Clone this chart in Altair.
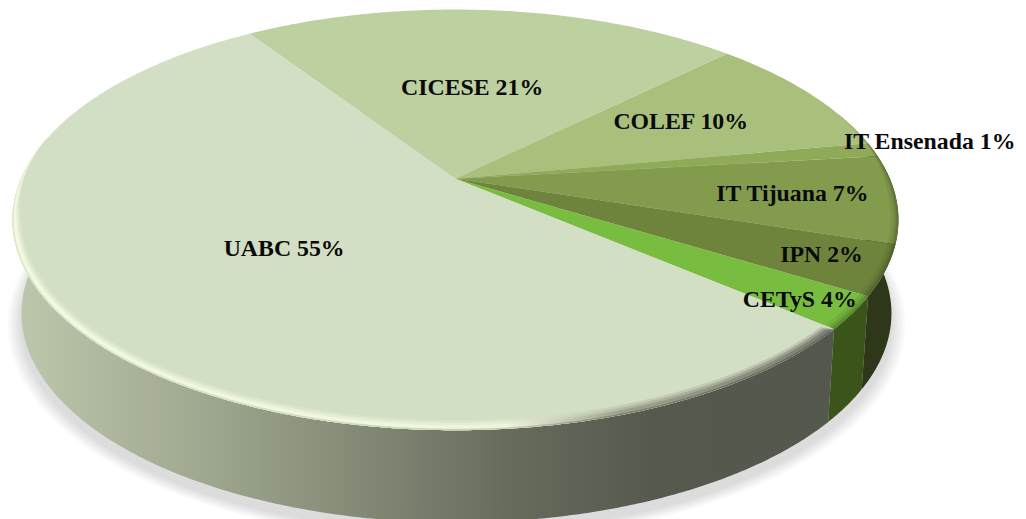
import numpy as np
import pandas as pd
import altair as alt

# Slice shares, clockwise from the top-left boundary
names = ["CICESE", "COLEF", "IT Ensenada", "IT Tijuana", "IPN", "CETyS", "UABC"]
shares = [21.9, 9.5, 1.1, 6.75, 3.8, 2.5, 54.45]
labels = ["CICESE 21%", "COLEF 10%", "IT Ensenada 1%", "IT Tijuana 7%", "IPN 2%", "CETyS 4%", "UABC 55%"]
colors = ["#bdd0a0", "#a8c07c", "#90ab58", "#839b4c", "#6e843c", "#79bd40", "#d3dfc5"]
label_radius = [0.49, 0.625, 1.148, 0.768, 0.86, 0.89, 0.493]
label_turn = [-1.0, -1.0, -1.0, 0.0, -0.5, 1.2, 0.0]

START = -33.5
K = 0.196
TOP = dict(cx=455.0, cy=178.0, A=433.4, B=201.0)
LOW = dict(cx=456.0, cy=271.0, A=425.6, B=200.0)


def project(theta_deg, r=1.0, p=TOP, ry=None):
    t = np.radians(np.asarray(theta_deg, dtype=float))
    ry = r if ry is None else ry
    X, Y = r * np.sin(t), ry * np.cos(t)
    d = 1 + K * Y
    return p["cx"] + p["A"] * X / d, p["cy"] - p["B"] * Y / d


edges = START + np.concatenate([[0], np.cumsum(shares)]) * 3.6

X_ENC = alt.X("x:Q", scale=alt.Scale(domain=[8.52, 1016.3], nice=False, zero=False), axis=None)
Y_ENC = alt.Y("y:Q", scale=alt.Scale(domain=[514.2, 10.39], nice=False, zero=False), axis=None)


def angles(a, b):
    return np.linspace(a, b, max(int(abs(b - a) * 2), 3))


def arc(a, b, p=TOP):
    return project(angles(a, b), 1.0, p)


def frame(xs, ys):
    return pd.DataFrame({"x": xs, "y": ys, "i": np.arange(len(xs))})


def poly(xs, ys, fill, **kw):
    return alt.Chart(frame(xs, ys)).mark_line(
        interpolate="linear-closed", fill=fill, strokeOpacity=0, **kw
    ).encode(x=X_ENC, y=Y_ENC, order="i:Q")


def grad(stops):
    return alt.Gradient(
        gradient="linear", x1=0, y1=0, x2=1, y2=0,
        stops=[alt.GradientStop(offset=o, color=c) for o, c in stops],
    )


def band(a, b, px_out, px_in, fill, taper_lo=None, taper_hi=None, **kw):
    """Rim strip between two insets given in pixels, tapering toward its ends."""
    th = angles(a, b)
    w = np.ones_like(th)
    if taper_hi is not None:
        w = w * np.clip((b - th) / taper_hi, 0, 1)
    if taper_lo is not None:
        w = w * np.clip((th - a) / taper_lo, 0, 1)
    ox, oy = project(th, 1 - w * px_out / 442, ry=1 - w * px_out / 250)
    ix, iy = project(th, 1 - w * px_in / 442, ry=1 - w * px_in / 250)
    return poly(np.r_[ox, ix[::-1]], np.r_[oy, iy[::-1]], fill, **kw)


layers = []

# soft shadow under the body
th = np.linspace(0, 360, 360)
for grow in [13, 11, 9, 7, 5, 3, 1]:
    sx, sy = project(th, 1 + grow / 430, dict(LOW, cy=LOW["cy"] + 9))
    layers.append(poly(sx, sy, "#000000", opacity=0.016))

u0 = edges[6]

# side walls
side_stops = [(0.0, "#bdc8ac"), (0.16, "#a9b299"), (0.34, "#8f9781"), (0.47, "#7b8270"),
              (0.60, "#686c5d"), (0.78, "#565a4d"), (1.0, "#53574d")]
tx, ty = arc(u0, 282)
lx, ly = arc(u0, 282, p=LOW)
layers.append(poly(np.r_[tx, lx[::-1]], np.r_[ty, ly[::-1]], grad(side_stops)))

for a, b, c in [(edges[5], edges[6], "#3a5419"), (edges[2], edges[5], "#2e3719")]:
    tx, ty = arc(a, b)
    lx, ly = arc(a, b, p=LOW)
    layers.append(poly(np.r_[tx, lx[::-1]], np.r_[ty, ly[::-1]], c))

# top wedges
cx0, cy0 = project([0.0], 0.0)
for i, c in enumerate(colors):
    ax, ay = arc(edges[i], edges[i + 1])
    layers.append(poly(np.r_[cx0, ax], np.r_[cy0, ay], c))

# bevel along the front rim of the large slice
soft = [(0.0, "#dae5cb"), (0.60, "#dae5cb"), (0.74, "#c4cdb5"), (1.0, "#b9c1ab")]
glow = [(0.0, "#e6efd5"), (0.60, "#e6efd5"), (0.74, "#b4b9a3"), (1.0, "#979b8b")]
bright = [(0.0, "#f1f9e0"), (0.60, "#eef6dc"), (0.74, "#9ea28d"), (1.0, "#7b7f72")]
edge = [(0.0, "#dfe8cc"), (0.60, "#c9d0b6"), (0.74, "#7f8473"), (1.0, "#5e6257")]
for p_out, p_in, st in [(0, 8, soft), (0, 6, glow), (0.8, 4, bright), (0, 1.2, edge)]:
    layers.append(band(u0, 279, p_out, p_in, grad(st), taper_hi=22, taper_lo=1))

# darker rim on the small slices
layers.append(band(70, u0, 0, 7, "#1f2a10", taper_lo=25, opacity=0.08))
layers.append(band(70, u0, 0, 4, "#1f2a10", taper_lo=25, opacity=0.12))
layers.append(band(70, u0, 0, 2, "#1f2a10", taper_lo=25, opacity=0.16))

# labels
mids = (edges[:-1] + edges[1:]) / 2
lab_x, lab_y = [], []
for m, r, t in zip(mids, label_radius, label_turn):
    px, py = project([m + t], r)
    lab_x.append(float(px[0]))
    lab_y.append(float(py[0]))
lab = pd.DataFrame({"x": lab_x, "y": lab_y, "t": labels})
layers.append(
    alt.Chart(lab).mark_text(
        font="Liberation Serif", fontWeight="bold", fontSize=24, color="#0a0a0a",
        align="center", baseline="middle",
    ).encode(x=X_ENC, y=Y_ENC, text="t:N")
)

chart = (
    alt.layer(*layers)
    .properties(width=1018, height=511, padding=0, autosize=alt.AutoSizeParams(type="none"),
                background="#ffffff")
    .configure_view(stroke=None)
)
chart.save("out.html", embed_options={"renderer": "svg", "actions": False})
